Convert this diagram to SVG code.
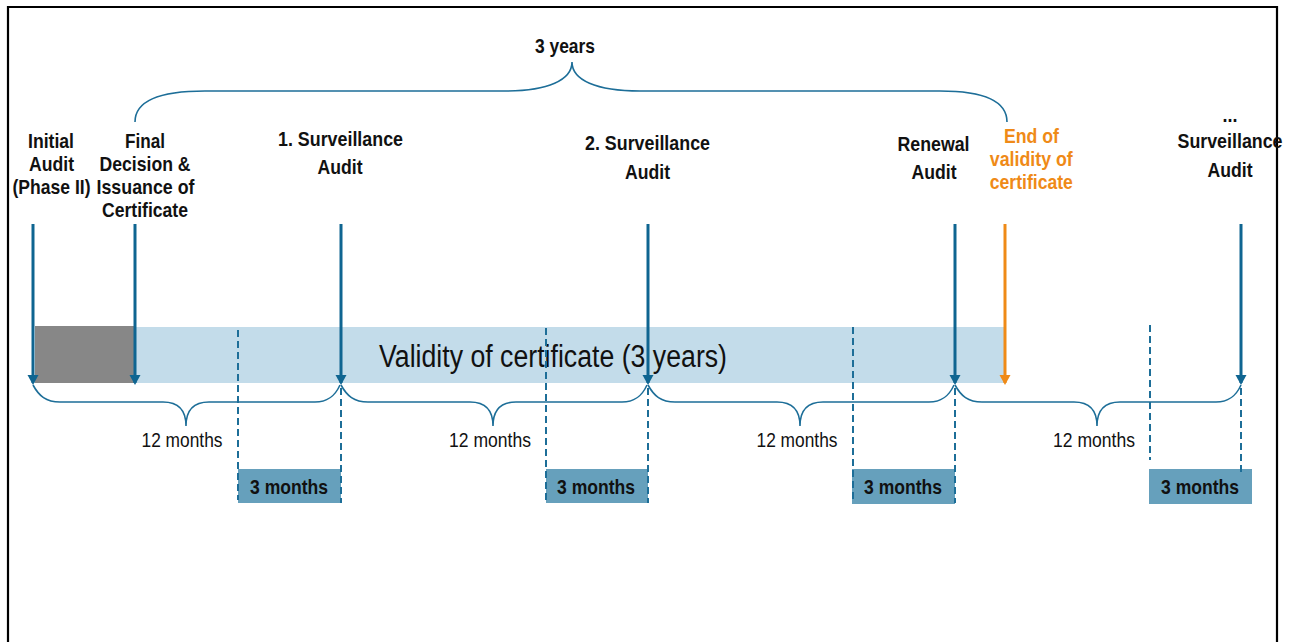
<svg xmlns="http://www.w3.org/2000/svg" width="1292" height="642" viewBox="0 0 1292 642">
<defs>
<style>
.lbl{font-family:"Liberation Sans Narrow","Liberation Sans",Arial,sans-serif;font-weight:bold;font-size:21px;fill:#111;text-anchor:middle}
.org{fill:#ef8a17}
.reg{font-family:"Liberation Sans Narrow","Liberation Sans",Arial,sans-serif;font-size:21px;fill:#111;text-anchor:middle}
.big{font-family:"Liberation Sans Narrow","Liberation Sans",Arial,sans-serif;font-size:31px;fill:#111}
.arr{stroke:#0f6591;stroke-width:3;fill:none}
.arro{stroke:#ef8a17;stroke-width:3;fill:none}
.brace{stroke:#1d6e98;stroke-width:1.6;fill:none}
.dash{stroke:#1d6e98;stroke-width:2;stroke-dasharray:7 4;fill:none}
.box{fill:#66a0bc}
</style>
<marker id="ah" markerUnits="userSpaceOnUse" markerWidth="12" markerHeight="12" refX="8" refY="6" orient="auto" viewBox="0 0 12 12">
<path d="M0,0.5 L10,6 L0,11.5 z" fill="#0f6591"/>
</marker>
<marker id="aho" markerUnits="userSpaceOnUse" markerWidth="12" markerHeight="12" refX="8" refY="6" orient="auto" viewBox="0 0 12 12">
<path d="M0,0.5 L10,6 L0,11.5 z" fill="#ef8a17"/>
</marker>
</defs>
<rect x="0" y="0" width="1292" height="642" fill="#fff"/>
<path d="M8,650 L8,7 L1277,7 L1277,650" fill="none" stroke="#000" stroke-width="2.2"/>

<g id="bar">
<rect x="135" y="327" width="869" height="56" fill="#c3dcea"/>
<rect x="35" y="326" width="100" height="57" fill="#878787"/>
<text class="big" x="379" y="367" textLength="348" lengthAdjust="spacingAndGlyphs">Validity of certificate (3 years)</text>
</g>

<g id="boxes">
<g id="box1"><rect class="box" x="238" y="469" width="103" height="34"/><text class="lbl" x="289" y="494" textLength="78" lengthAdjust="spacingAndGlyphs">3 months</text></g>
<g id="box2"><rect class="box" x="546" y="469" width="102" height="34"/><text class="lbl" x="596" y="494" textLength="78" lengthAdjust="spacingAndGlyphs">3 months</text></g>
<g id="box3"><rect class="box" x="852" y="469" width="103" height="35"/><text class="lbl" x="903" y="494" textLength="78" lengthAdjust="spacingAndGlyphs">3 months</text></g>
<g id="box4"><rect class="box" x="1149" y="469" width="103" height="35"/><text class="lbl" x="1200" y="494" textLength="78" lengthAdjust="spacingAndGlyphs">3 months</text></g>
</g>

<g id="connectors">
<path class="dash" d="M238,330 V500"/>
<path class="dash" d="M341,388 V503"/>
<path class="dash" d="M546,328 V500"/>
<path class="dash" d="M648,388 V503"/>
<path class="dash" d="M853,327 V500"/>
<path class="dash" d="M955,388 V503"/>
<path class="dash" d="M1150,325 V460"/>
<path class="dash" d="M1241,388 V472"/>

<path class="brace" d="M135,122 C135,100 160,91 205,91 L505,91 C548,91 572,80 572,62 C572,80 596,91 640,91 L940,91 C985,91 1007,102 1007,122"/>
<path class="brace" d="M33,385 C39,396 46,402 60,402 L163,402 C178,402 186,410 186,426 C186,410 194,402 209,402 L315,402 C328,402 335,396 340,385"/>
<path class="brace" d="M341,385 C347,396 354,402 368,402 L470,402 C485,402 493,410 493,426 C493,410 501,402 516,402 L622,402 C635,402 642,396 647,385"/>
<path class="brace" d="M648,385 C654,396 661,402 675,402 L777,402 C792,402 800,410 800,426 C800,410 808,402 823,402 L929,402 C942,402 949,396 954,385"/>
<path class="brace" d="M955,385 C961,396 968,402 982,402 L1074,402 C1089,402 1097,410 1097,426 C1097,410 1105,402 1120,402 L1216,402 C1229,402 1236,396 1241,385"/>

<line class="arr" x1="33" y1="224" x2="33" y2="383" marker-end="url(#ah)"/>
<line class="arr" x1="135" y1="224" x2="135" y2="383" marker-end="url(#ah)"/>
<line class="arr" x1="341" y1="224" x2="341" y2="383" marker-end="url(#ah)"/>
<line class="arr" x1="648" y1="224" x2="648" y2="383" marker-end="url(#ah)"/>
<line class="arr" x1="955" y1="224" x2="955" y2="383" marker-end="url(#ah)"/>
<line class="arro" x1="1005" y1="224" x2="1005" y2="383" marker-end="url(#aho)"/>
<line class="arr" x1="1241" y1="224" x2="1241" y2="383" marker-end="url(#ah)"/>
</g>

<g id="brace-labels">
<text class="lbl" x="565" y="53" textLength="60" lengthAdjust="spacingAndGlyphs">3 years</text>
<text class="reg" x="182" y="447" textLength="81" lengthAdjust="spacingAndGlyphs">12 months</text>
<text class="reg" x="490" y="447" textLength="82" lengthAdjust="spacingAndGlyphs">12 months</text>
<text class="reg" x="797" y="447" textLength="81" lengthAdjust="spacingAndGlyphs">12 months</text>
<text class="reg" x="1094" y="447" textLength="82" lengthAdjust="spacingAndGlyphs">12 months</text>
</g>

<g id="initial-audit">
<text class="lbl" x="51" y="148" textLength="46" lengthAdjust="spacingAndGlyphs">Initial</text>
<text class="lbl" x="51.5" y="171" textLength="45" lengthAdjust="spacingAndGlyphs">Audit</text>
<text class="lbl" x="51.5" y="194" textLength="78" lengthAdjust="spacingAndGlyphs">(Phase II)</text>
</g>
<g id="final-decision">
<text class="lbl" x="145" y="148" textLength="40" lengthAdjust="spacingAndGlyphs">Final</text>
<text class="lbl" x="145" y="171" textLength="91" lengthAdjust="spacingAndGlyphs">Decision &amp;</text>
<text class="lbl" x="145.5" y="194" textLength="98" lengthAdjust="spacingAndGlyphs">Issuance of</text>
<text class="lbl" x="145" y="217" textLength="86" lengthAdjust="spacingAndGlyphs">Certificate</text>
</g>
<g id="surveillance-1">
<text class="lbl" x="340.5" y="146" textLength="125" lengthAdjust="spacingAndGlyphs">1. Surveillance</text>
<text class="lbl" x="340" y="174" textLength="45" lengthAdjust="spacingAndGlyphs">Audit</text>
</g>
<g id="surveillance-2">
<text class="lbl" x="647.5" y="150" textLength="125" lengthAdjust="spacingAndGlyphs">2. Surveillance</text>
<text class="lbl" x="647.5" y="179" textLength="45" lengthAdjust="spacingAndGlyphs">Audit</text>
</g>
<g id="renewal-audit">
<text class="lbl" x="933.5" y="151" textLength="72" lengthAdjust="spacingAndGlyphs">Renewal</text>
<text class="lbl" x="934" y="179" textLength="45" lengthAdjust="spacingAndGlyphs">Audit</text>
</g>
<g id="end-of-validity">
<text class="lbl org" x="1031.5" y="143" textLength="55" lengthAdjust="spacingAndGlyphs">End of</text>
<text class="lbl org" x="1031.3" y="166" textLength="83" lengthAdjust="spacingAndGlyphs">validity of</text>
<text class="lbl org" x="1031.3" y="189" textLength="83" lengthAdjust="spacingAndGlyphs">certificate</text>
</g>
<g id="surveillance-n">
<text class="lbl" x="1230" y="122" textLength="15" lengthAdjust="spacingAndGlyphs">...</text>
<text class="lbl" x="1230" y="148" textLength="105" lengthAdjust="spacingAndGlyphs">Surveillance</text>
<text class="lbl" x="1230" y="177" textLength="45" lengthAdjust="spacingAndGlyphs">Audit</text>
</g>
</svg>
